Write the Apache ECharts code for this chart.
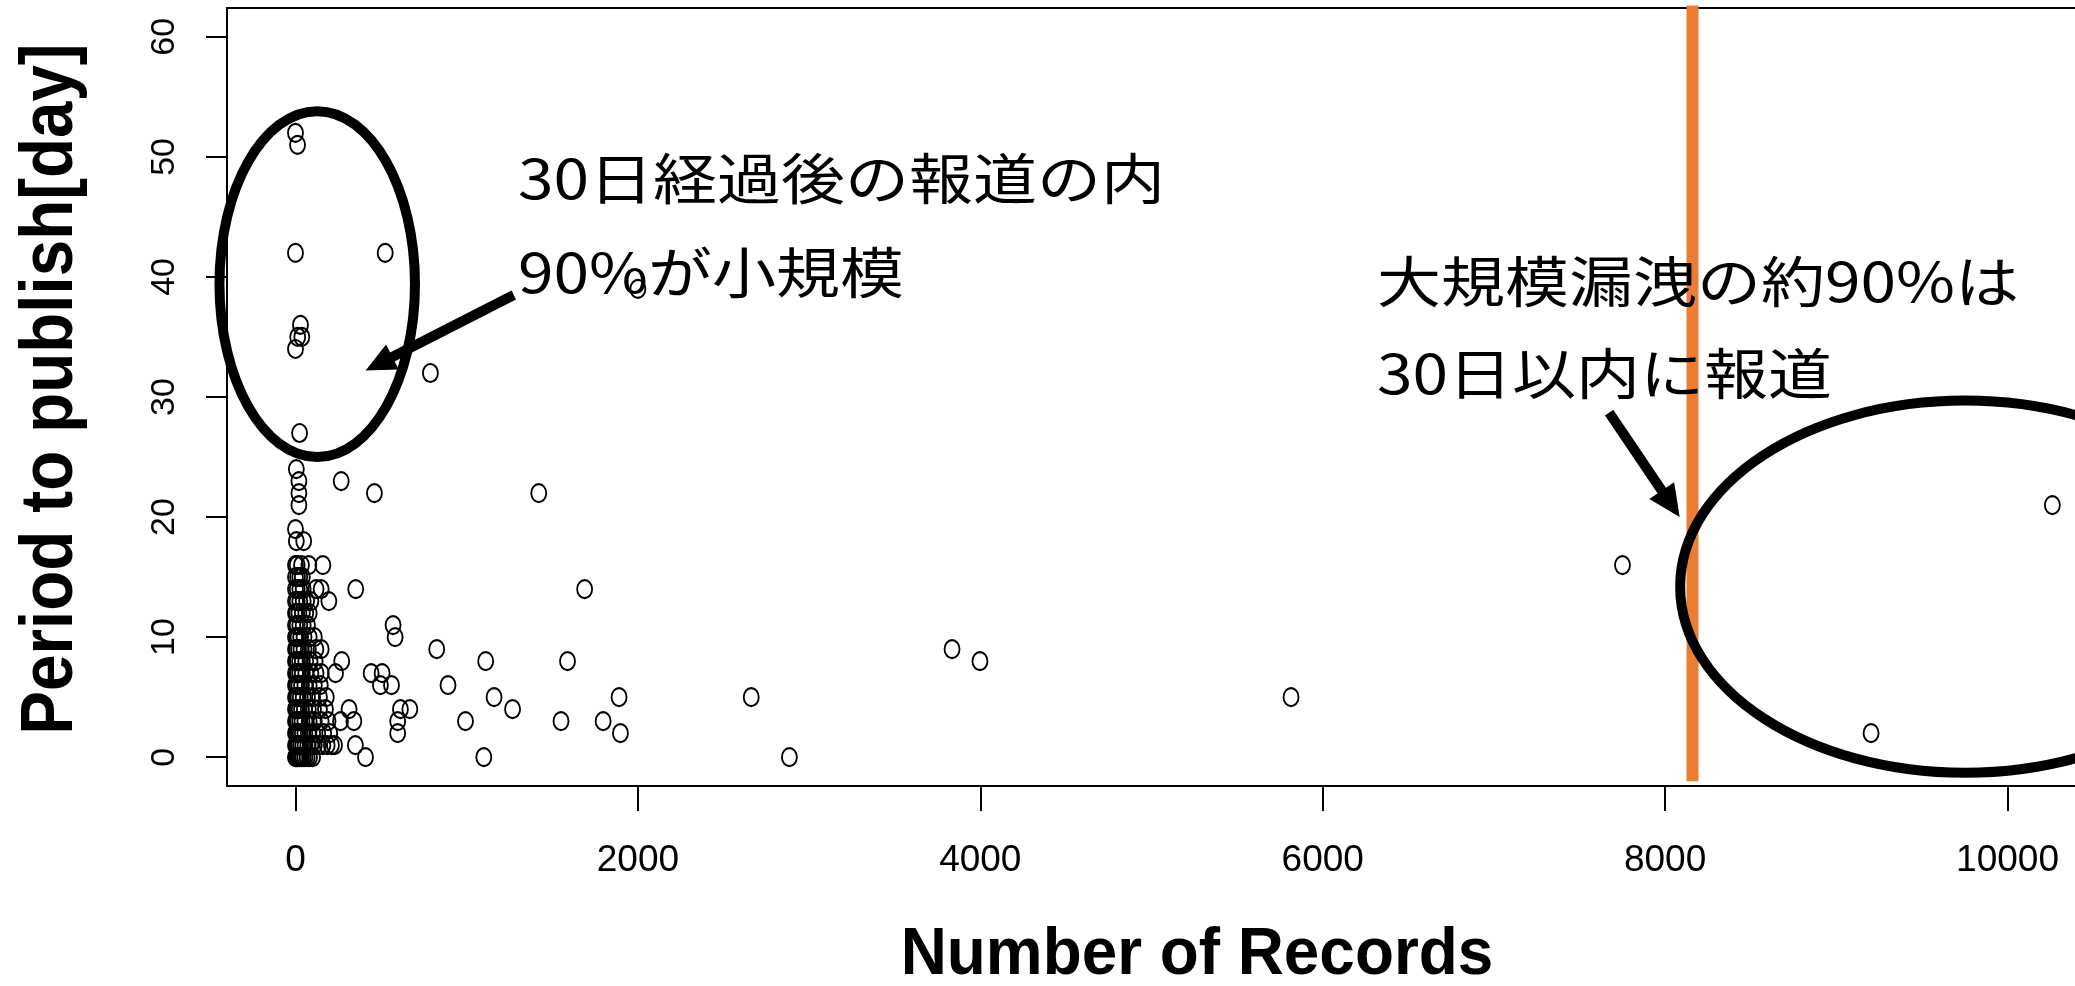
<!DOCTYPE html>
<html>
<head>
<meta charset="utf-8">
<script src="https://cdn.jsdelivr.net/npm/echarts@6/dist/echarts.min.js"></script>
<style>
  html, body { margin: 0; padding: 0; overflow: hidden; background: #fff; }
  #chart { width: 2080px; height: 986px; }
</style>
</head>
<body>
<div id="chart"></div>
<script>
// Axis ticks
const xTicks = [0, 2000, 4000, 6000, 8000, 10000];
const yTicks = [0, 10, 20, 30, 40, 50, 60];

// Breaches with very few records, stacked near zero (row by row, 0..24 days)
const columnRecords = [
  0, 3, 8, 14, 20, 27, 35, 44, 55, 68, 82, 100,
  0, 5, 12, 20, 30, 42, 56, 72, 90, 110, 135, 160, 185, 210, 228,
  0, 4, 10, 18, 28, 40, 55, 75, 100, 130, 165, 200,
  0, 6, 14, 25, 38, 55, 80, 110, 150, 190,
  0, 5, 12, 22, 35, 52, 75, 105, 140, 175,
  0, 7, 15, 28, 45, 70, 100, 140, 180,
  0, 4, 10, 20, 35, 55, 80, 110, 145,
  0, 6, 14, 25, 40, 60, 90, 120, 150,
  0, 5, 12, 24, 40, 60, 85, 115,
  0, 8, 18, 32, 50, 75, 119, 150,
  0, 6, 15, 30, 50, 80, 110,
  0, 10, 25, 45, 70,
  0, 8, 20, 40, 60, 80,
  0, 10, 25, 45, 65, 90, 195,
  0, 10, 25, 45, 120, 150,
  0, 12, 25, 40,
  0, 10, 35, 78, 160,
  5, 48,
  0,
  20,
  20,
  20,
  5
];
const columnDays = [
  0, 0, 0, 0, 0, 0, 0, 0, 0, 0, 0, 0,
  1, 1, 1, 1, 1, 1, 1, 1, 1, 1, 1, 1, 1, 1, 1,
  2, 2, 2, 2, 2, 2, 2, 2, 2, 2, 2, 2,
  3, 3, 3, 3, 3, 3, 3, 3, 3, 3,
  4, 4, 4, 4, 4, 4, 4, 4, 4, 4,
  5, 5, 5, 5, 5, 5, 5, 5, 5,
  6, 6, 6, 6, 6, 6, 6, 6, 6,
  7, 7, 7, 7, 7, 7, 7, 7, 7,
  8, 8, 8, 8, 8, 8, 8, 8,
  9, 9, 9, 9, 9, 9, 9, 9,
  10, 10, 10, 10, 10, 10, 10,
  11, 11, 11, 11, 11,
  12, 12, 12, 12, 12, 12,
  13, 13, 13, 13, 13, 13, 13,
  14, 14, 14, 14, 14, 14,
  15, 15, 15, 15,
  16, 16, 16, 16, 16,
  18, 18,
  19,
  21,
  22,
  23,
  24
];

// Breaches spread over larger record counts
const spreadRecords = [
  350, 409, 1100, 2885, 597, 1898, 9203,
  263, 341, 597, 993, 1551, 1797,
  313, 613, 668, 1268,
  1160, 1890, 2662, 5815,
  496, 561, 891,
  234, 442, 506,
  270, 1111, 1589, 3998,
  825, 3835,
  582, 570,
  352, 1689,
  7751, 10262,
  267, 461, 1421
];
const spreadDays = [
  1, 0, 0, 0, 2, 2, 2,
  3, 3, 3, 3, 3, 3,
  4, 4, 4, 4,
  5, 5, 5, 5,
  6, 6, 6,
  7, 7, 7,
  8, 8, 8, 8,
  9, 9,
  10, 11,
  14, 14,
  16, 21,
  23, 22, 22
];

// Reports published more than 24 days after the breach
const lateRecords = [24, 788, 0, 13, 37, 29, 2000, 0, 524, 12, 0];
const lateDays    = [27, 32, 34, 35, 35, 36, 39, 42, 42, 51, 52];

// Threshold separating large-scale leaks
const largeLeakThreshold = 8160;

const points = [];
[[columnRecords, columnDays], [spreadRecords, spreadDays], [lateRecords, lateDays]]
  .forEach(([xs, ys]) => xs.forEach((x, i) => points.push([x, ys[i]])));

const chart = echarts.init(document.getElementById('chart'), null, { renderer: 'canvas' });

const ringPath = 'path://M0,9A7.5,9 0 1,1 15,9A7.5,9 0 1,1 0,9Z';

chart.setOption({
  animation: false,
  backgroundColor: '#fff',
  grid: {
    left: 227, right: 4, top: 8, bottom: 200,
    show: true, borderColor: '#000', borderWidth: 2, backgroundColor: 'transparent'
  },
  xAxis: {
    type: 'value', min: -400, max: 10400,
    axisLine: { show: false, onZero: false },
    axisTick: { show: true, inside: false, customValues: xTicks, length: 25, lineStyle: { color: '#000', width: 2 } },
    axisLabel: {
      customValues: xTicks, margin: 56, color: '#000',
      fontFamily: 'Liberation Sans', fontSize: 37, lineHeight: 37,
      formatter: v => String(v)
    },
    splitLine: { show: false }
  },
  yAxis: {
    type: 'value', min: -2.4, max: 62.4,
    axisLine: { show: false, onZero: false },
    axisTick: { show: true, inside: false, customValues: yTicks, length: 21, lineStyle: { color: '#000', width: 2 } },
    axisLabel: {
      customValues: yTicks, rotate: 90, margin: 45, color: '#000',
      fontFamily: 'Liberation Sans', fontSize: 34, lineHeight: 34,
      formatter: v => String(v)
    },
    splitLine: { show: false }
  },
  series: [
    {
      type: 'line',
      data: [[largeLeakThreshold, -2], [largeLeakThreshold, 62.6]],
      symbol: 'none', clip: false, silent: true, z: 1,
      lineStyle: { color: '#ED7D31', width: 12 }
    },
    {
      type: 'scatter',
      data: points,
      symbol: ringPath,
      symbolSize: [15, 18],
      silent: true, z: 2,
      itemStyle: { color: 'rgba(0,0,0,0)', borderColor: '#000', borderWidth: 2, opacity: 1 }
    }
  ]
});

// Annotation overlays placed in data coordinates
function px(x, y) { return chart.convertToPixel({ xAxisIndex: 0, yAxisIndex: 0 }, [x, y]); }

function ellipse(cx, cy, dx, dy) {
  const c = px(cx, cy);
  const rx = px(cx + dx, cy)[0] - c[0];
  const ry = c[1] - px(cx, cy + dy)[1];
  return {
    type: 'ellipse', z: 100, silent: true,
    shape: { cx: c[0], cy: c[1], rx: rx, ry: ry },
    style: { fill: 'none', stroke: '#000', lineWidth: 10 }
  };
}

function arrow(from, to, headLen, headHalf) {
  const a = px(from[0], from[1]);
  const b = px(to[0], to[1]);
  const dx = b[0] - a[0], dy = b[1] - a[1];
  const len = Math.hypot(dx, dy);
  const ux = dx / len, uy = dy / len;
  const bx = b[0] - ux * headLen, by = b[1] - uy * headLen;
  const nx = -uy, ny = ux;
  return [
    {
      type: 'line', z: 100, silent: true,
      shape: { x1: a[0], y1: a[1], x2: bx + ux * 4, y2: by + uy * 4 },
      style: { stroke: '#000', lineWidth: 10, lineCap: 'butt' }
    },
    {
      type: 'polygon', z: 100, silent: true,
      shape: { points: [[b[0], b[1]], [bx + nx * headHalf, by + ny * headHalf], [bx - nx * headHalf, by - ny * headHalf]] },
      style: { fill: '#000' }
    }
  ];
}

function label(text, x, y, font, opts) {
  return Object.assign({
    type: 'text', z: 110, silent: true, x: x, y: y,
    style: { text: text, font: font, fill: '#000', align: 'left', verticalAlign: 'middle' }
  }, opts || {});
}

const jpFont = '64px "Noto Sans CJK JP"';
const jpScale = { scaleY: 0.86 };

chart.setOption({
  graphic: [
    ellipse(127, 39.4, 571, 14.4),
    ellipse(9752, 14.2, 1664, 15.5),
    ...arrow([1275, 38.5], [410, 32.2], 30, 14),
    ...arrow([7673, 28.7], [8085, 20.0], 32, 15),
    label('30日経過後の報道の内', 518, 178, jpFont, jpScale),
    label('90%が小規模', 518, 272, jpFont, jpScale),
    label('大規模漏洩の約90%は', 1377, 281, jpFont, jpScale),
    label('30日以内に報道', 1377, 373, jpFont, jpScale),
    {
      type: 'text', z: 110, silent: true, x: 1197, y: 956, scaleX: 0.953,
      style: { text: 'Number of Records', font: 'bold 67px "Liberation Sans"', fill: '#000', align: 'center', verticalAlign: 'middle' }
    },
    {
      type: 'text', z: 110, silent: true, x: 52, y: 389, rotation: Math.PI / 2, scaleX: 0.885,
      style: { text: 'Period to publish[day]', font: 'bold 74px "Liberation Sans"', fill: '#000', align: 'center', verticalAlign: 'middle' }
    }
  ]
});
</script>
</body>
</html>
